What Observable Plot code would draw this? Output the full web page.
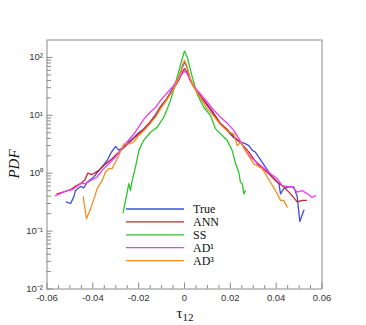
<!DOCTYPE html>
<html><head><meta charset="utf-8">
<script src="https://cdn.jsdelivr.net/npm/d3@7"></script>
<script src="https://cdn.jsdelivr.net/npm/@observablehq/plot@0.6"></script>
<style>body{margin:0;background:#fff}#chart{width:366px;height:325px}</style>
</head><body><div id="chart"></div>
<script>
const seriesNames = ["True", "ANN", "SS", "AD¹", "AD³"];
const seriesColors = ["#3d4fdc", "#cc2229", "#2ec42e", "#f03cf0", "#f78c1e"];

const tauTrue = [-0.0516,-0.0497,-0.0483,-0.0476,-0.0454,-0.0439,-0.0425,-0.0396,-0.0367,-0.0337,-0.0323,-0.0301,-0.0287,-0.027,-0.025,-0.0225,-0.02,-0.0178,-0.015,-0.0125,-0.0105,-0.008,-0.0047,-0.0025,-0.001,0,0.001,0.0025,0.0041,0.007,0.0099,0.0125,0.0157,0.018,0.0215,0.024,0.026,0.0281,0.0295,0.031,0.0324,0.0353,0.0383,0.0412,0.0419,0.0433,0.0455,0.0477,0.0492,0.0503,0.0521];
const pdfTrue = [0.32,0.30,0.39,0.50,0.59,0.56,0.70,0.86,1.2,1.66,2.17,2.9,2.5,2.75,3.3,4.0,5.0,5.8,7.6,10.5,14,18.6,31.6,46,66,83,69,42,31,21,14.8,10.7,7.1,5.8,4.1,3.5,3.3,3.0,2.5,2.3,1.9,1.27,0.86,0.66,0.44,0.54,0.58,0.58,0.39,0.147,0.23];

const tauANN = [-0.0556,-0.053,-0.0497,-0.0475,-0.0454,-0.0435,-0.0422,-0.0403,-0.0374,-0.0352,-0.0316,-0.0287,-0.026,-0.0235,-0.021,-0.018,-0.015,-0.0125,-0.0105,-0.008,-0.005,-0.0025,-0.001,0,0.001,0.0025,0.0041,0.007,0.0099,0.0125,0.0157,0.019,0.0215,0.024,0.0274,0.0317,0.0345,0.0368,0.0405,0.0433,0.0463,0.0492,0.0514,0.0532];
const pdfANN = [0.44,0.47,0.52,0.60,0.66,0.76,1.0,0.95,1.12,1.36,1.78,2.3,2.9,3.55,4.4,5.6,7.6,10,14,18.6,27.5,40.7,55,64,56,40,31,21.4,15.5,11.2,7.2,5.5,4.3,3.5,2.5,1.46,1.17,0.98,0.70,0.58,0.44,0.32,0.34,0.34];

const tauSS = [-0.0268,-0.025,-0.0243,-0.0236,-0.0228,-0.0214,-0.0199,-0.0178,-0.0148,-0.0119,-0.009,-0.0061,-0.0032,-0.001,0,0.0012,0.0034,0.0055,0.0084,0.0113,0.0135,0.0157,0.0186,0.0208,0.0223,0.0237,0.0244,0.0252,0.0259,0.0266];
const pdfSS = [0.208,0.47,0.66,0.50,0.75,1.27,2.48,3.7,5.1,6.25,9.3,18,45.7,95,129,101,45.7,23.4,13.8,10,5.9,4.8,3.7,2.48,1.46,1.04,0.70,0.66,0.44,0.50];

const tauAD1 = [-0.0563,-0.0541,-0.0512,-0.049,-0.0454,-0.0432,-0.0403,-0.0381,-0.0359,-0.033,-0.0301,-0.0279,-0.025,-0.022,-0.0178,-0.0148,-0.0125,-0.0105,-0.008,-0.005,-0.0025,-0.001,0,0.001,0.0025,0.0041,0.007,0.0099,0.0125,0.0157,0.019,0.0215,0.024,0.0266,0.0288,0.0332,0.0375,0.0405,0.0426,0.0448,0.047,0.0492,0.0514,0.0536,0.0557,0.0572];
const pdfAD1 = [0.41,0.45,0.50,0.52,0.66,0.66,0.77,0.86,1.12,1.46,1.9,2.48,3.5,4.8,8.5,11.5,13.8,18,23.4,31.6,44.7,52.5,57.5,53.7,41.7,31.6,23.4,17,12.6,9.3,7.1,5.5,3.8,2.48,1.9,1.36,0.98,0.80,0.61,0.59,0.58,0.47,0.50,0.44,0.38,0.41];

const tauAD3 = [-0.0442,-0.0428,-0.041,-0.0388,-0.0381,-0.0359,-0.0345,-0.033,-0.0316,-0.0301,-0.0287,-0.0265,-0.024,-0.022,-0.02,-0.0178,-0.015,-0.0125,-0.0105,-0.008,-0.005,-0.0025,-0.001,0,0.001,0.0025,0.0041,0.007,0.0099,0.0125,0.0157,0.019,0.0215,0.023,0.0245,0.0274,0.0302,0.0339,0.0361,0.0383,0.0405,0.0419,0.0433,0.0448];
const pdfAD3 = [0.39,0.164,0.24,0.44,0.54,0.75,1.04,1.2,1.2,1.56,2.03,3.2,3.2,3.5,4.5,5.4,7.2,9.5,12.9,17.8,27.5,44.7,71,89,72,43.6,30,20,12.9,10,6.9,5.2,4.8,3.0,3.4,2.17,1.46,1.2,0.86,0.62,0.44,0.34,0.34,0.26];

const xTicks = [-0.06,-0.04,-0.02,0,0.02,0.04,0.06];
const xTickLabels = ["-0.06","-0.04","-0.02","0","0.02","0.04","0.06"];
const xMinorTicks = [-0.055,-0.05,-0.045,-0.035,-0.03,-0.025,-0.015,-0.01,-0.005,0.005,0.01,0.015,0.025,0.03,0.035,0.045,0.05,0.055];
const yTicks = [0.01,0.1,1,10,100];
const yTickLabels = ["10⁻²","10⁻¹","10⁰","10¹","10²"];
const yMinorMultipliers = [2,3,4,5,6,7,8,9];
const xLabel = "τ", xLabelSub = "12", yLabel = "PDF";

const taus = [tauTrue, tauANN, tauSS, tauAD1, tauAD3];
const pdfs = [pdfTrue, pdfANN, pdfSS, pdfAD1, pdfAD3];
const rows = seriesNames.flatMap((s, i) => taus[i].map((t, j) => ({series: s, tau: t, pdf: pdfs[i][j]})));
const yMinorTicks = yTicks.slice(0, -1).flatMap(d => yMinorMultipliers.map(m => d * m)).filter(v => v < 200);

const W = 366, H = 325, mL = 46.5, mR = 44.5, mT = 39.5, mB = 36.5;
const axisColor = "#8a8a8a";
const svg = Plot.plot({
  width: W, height: H,
  marginLeft: mL, marginRight: mR, marginTop: mT, marginBottom: mB,
  style: {fontFamily: "'Liberation Sans', Arial, sans-serif", fontSize: "9.5px", color: "#333", background: "#fff", overflow: "visible"},
  x: {domain: [-0.06, 0.06]},
  y: {type: "log", domain: [0.01, 200]},
  color: {domain: seriesNames, range: seriesColors},
  marks: [
    Plot.axisX({ticks: xMinorTicks, tickSize: -3.5, tickFormat: () => "", stroke: axisColor, label: null}),
    Plot.axisX({ticks: xTicks, tickSize: -6, stroke: axisColor, label: null, tickFormat: () => ""}),
    Plot.axisX({ticks: xTicks, tickSize: 0, tickPadding: 5, label: null, fill: "#333",
      tickFormat: d => xTickLabels[xTicks.indexOf(d)]}),
    Plot.axisY({ticks: yMinorTicks, tickSize: -4.5, tickFormat: () => "", stroke: axisColor, label: null}),
    Plot.axisY({ticks: yTicks, tickSize: -6, tickFormat: () => "", stroke: axisColor, label: null}),
    Plot.axisY({ticks: yTicks, tickSize: 0, tickPadding: 4, label: null, fill: "#333",
      tickFormat: d => yTickLabels[yTicks.indexOf(d)]}),
    Plot.line(rows, {x: "tau", y: "pdf", z: "series", stroke: "series", strokeWidth: 1.3, curve: "linear"}),
    Plot.frame({stroke: axisColor, strokeWidth: 1})
  ]
});
document.getElementById("chart").appendChild(svg);

const sel = d3.select(svg);
const ix = mL, iy = mT;
const serif = "'Liberation Serif', 'Times New Roman', serif";
// y label
sel.append("text")
  .attr("transform", `translate(19,164) rotate(-90)`)
  .attr("text-anchor", "middle")
  .style("font-family", serif)
  .style("font-style", "italic").style("font-size", "15px").attr("fill", "#111")
  .text(yLabel);
// x label
const xl = sel.append("text")
  .attr("x", 185).attr("y", 318).attr("text-anchor", "middle")
  .style("font-family", serif)
  .style("font-size", "15px").attr("fill", "#111");
xl.append("tspan").text(xLabel);
xl.append("tspan").attr("dy", "3").style("font-size", "11px").text(xLabelSub);
// legend
const lg = sel.append("g").attr("transform", `translate(${ix + 79.5},${iy + 169.5})`);
seriesNames.forEach((s, i) => {
  const y = i * 12.9;
  lg.append("line").attr("x1", 0).attr("x2", 58).attr("y1", y).attr("y2", y)
    .attr("stroke", seriesColors[i]).attr("stroke-width", 1.3);
  lg.append("text").attr("x", 67).attr("y", y).attr("dy", "0.33em")
    .attr("text-anchor", "start")
    .style("text-anchor", "start")
    .style("font-family", serif)
    .style("font-size", "12px").attr("fill", "#111").text(s);
});
</script>
</body></html>
